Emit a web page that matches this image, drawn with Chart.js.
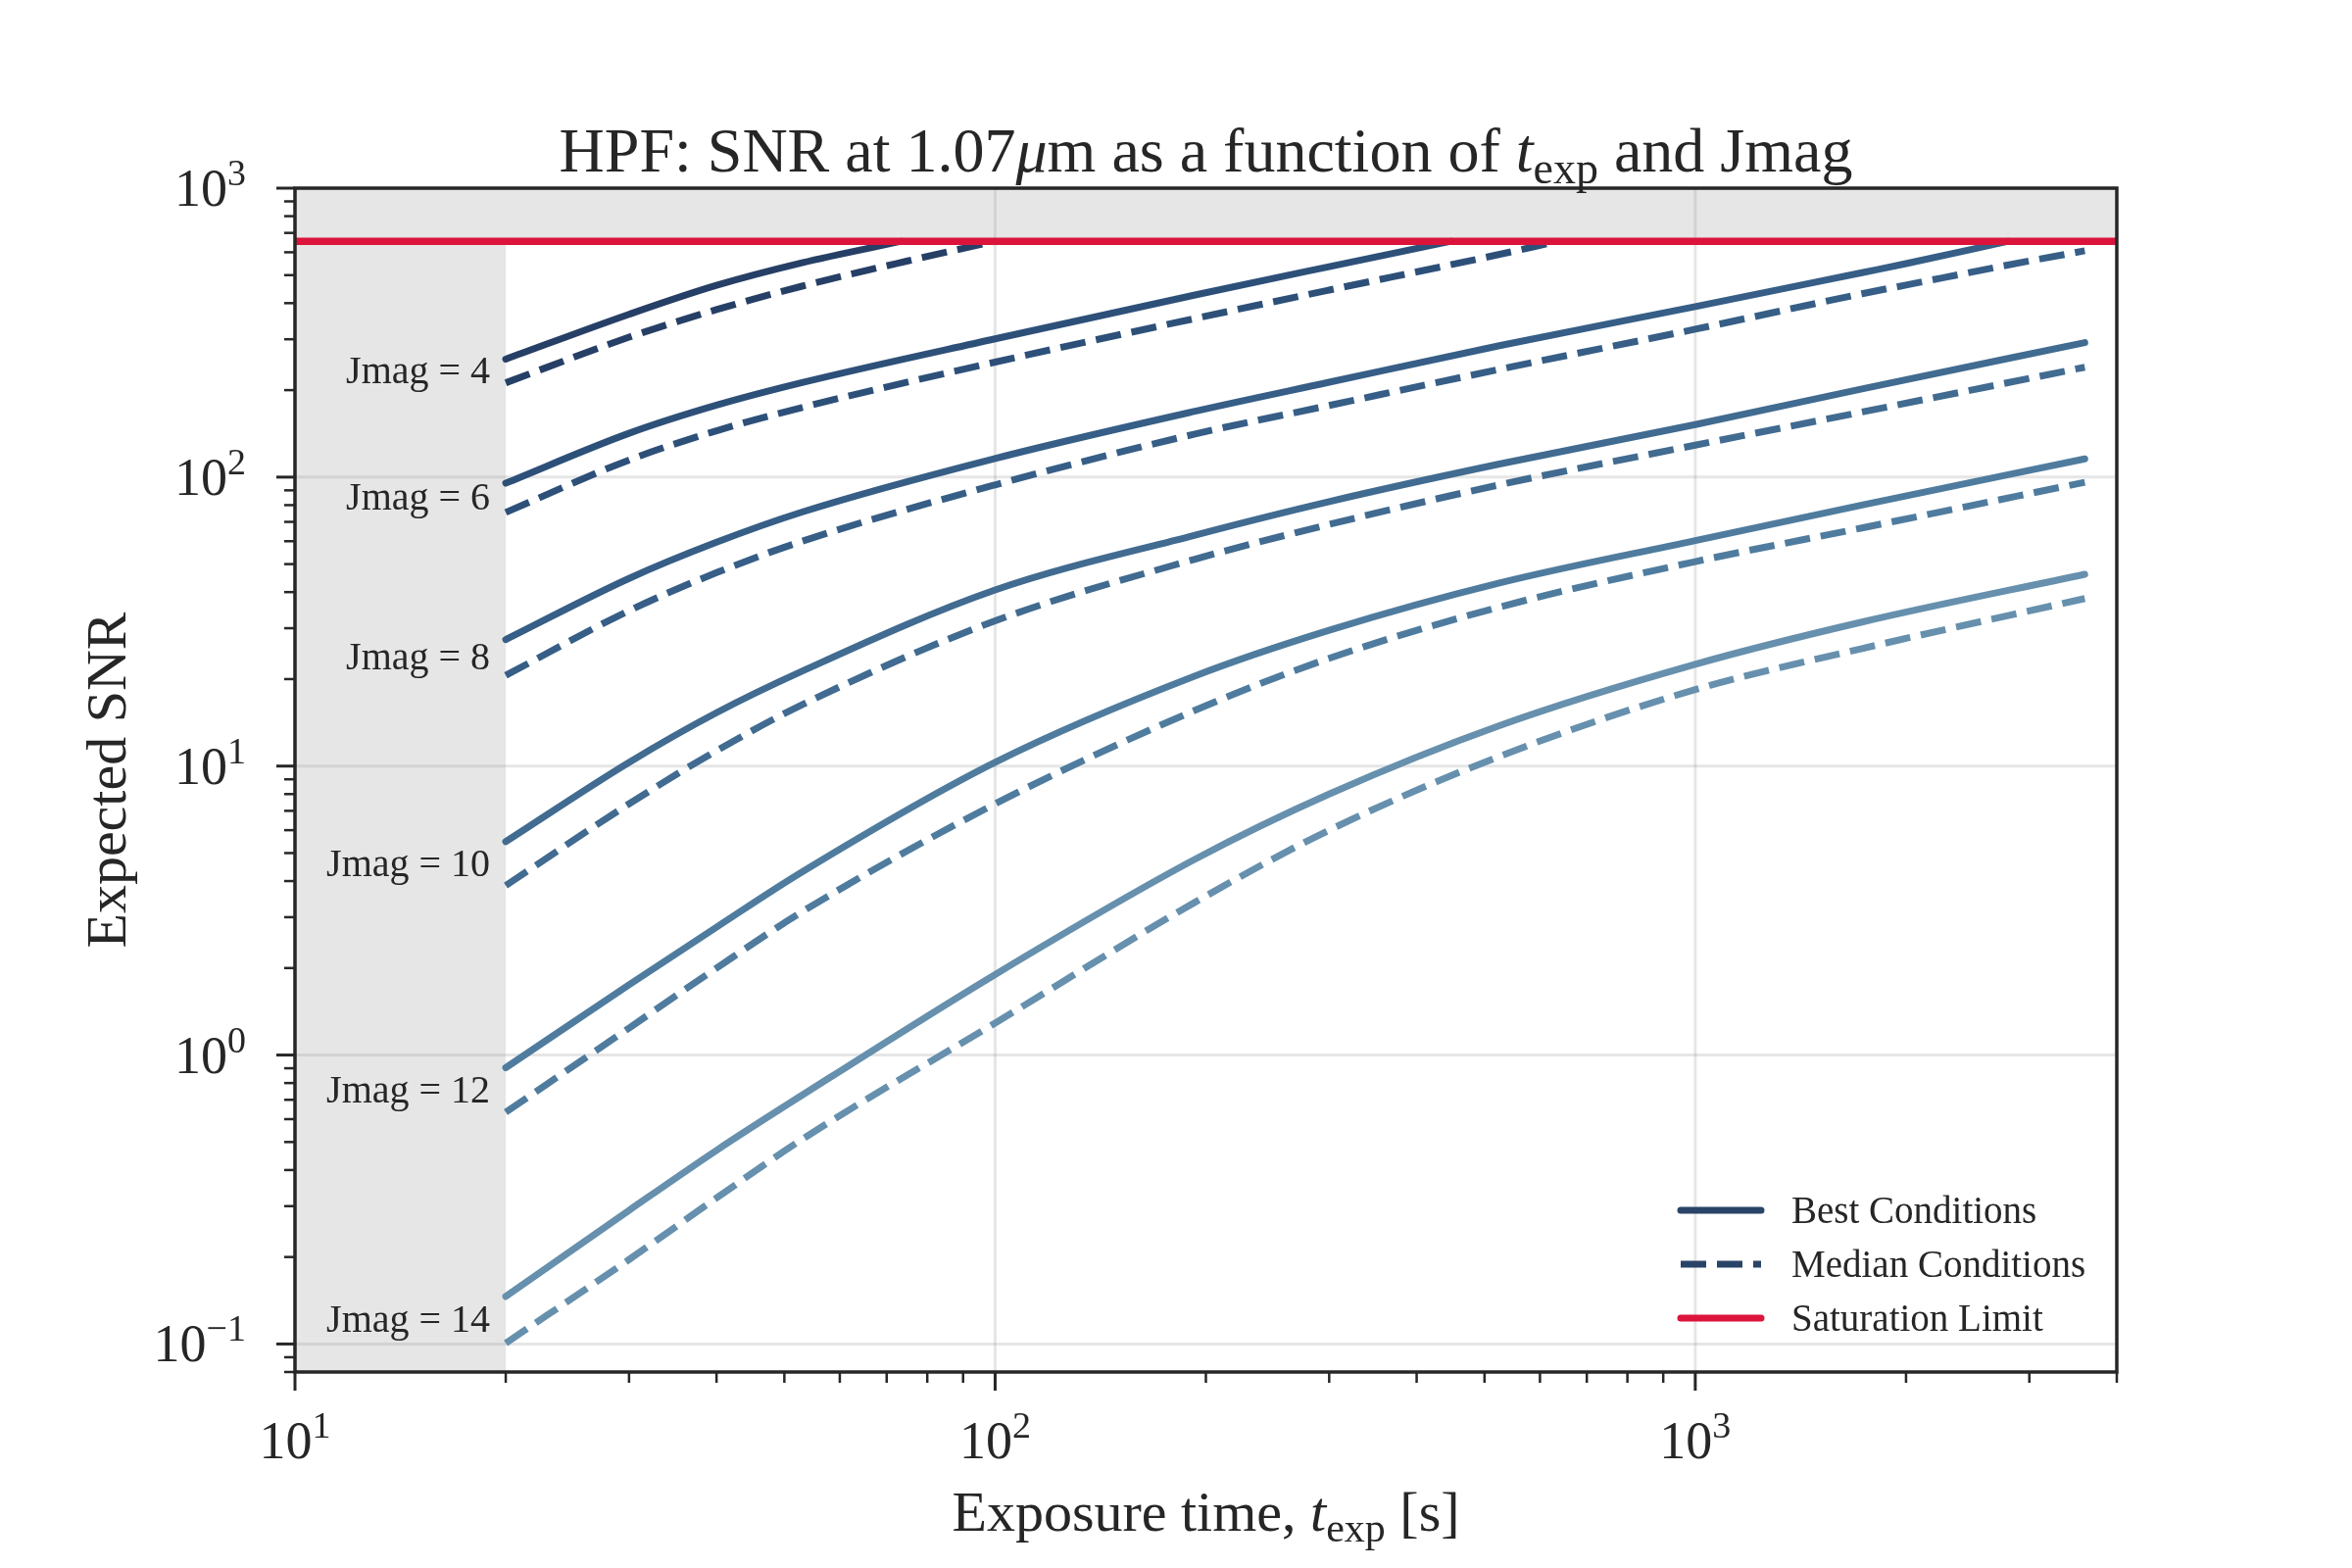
<!DOCTYPE html>
<html>
<head>
<meta charset="utf-8">
<script src="https://cdn.jsdelivr.net/npm/chart.js@4.4.1/dist/chart.umd.min.js"></script>
<style>
  html, body { margin: 0; padding: 0; background: #ffffff; }
  #wrap { width: 2400px; height: 1600px; }
</style>
</head>
<body>
<div id="wrap"><canvas id="snrChart"></canvas></div>
<script>
// values: [exposure time (s), SNR]
const jmags = [4, 6, 8, 10, 12, 14];
const satLimit = 655;
const minExpTime = 20;
const xLimits = [10, 4000];
const yLimits = [0.08, 1000];
const xMajorTicks = [10, 100, 1000];
const yMajorTicks = [0.1, 1, 10, 100, 1000];

const j4Best = [[20, 256], [30, 366], [40, 461], [53, 552], [73.5, 655]];
const j4Median = [[20, 212], [30, 305], [40, 380], [53, 458], [75, 560], [100, 655]];
const j6Best = [[20, 95.3], [30, 141.8], [40, 177.4], [53, 212.4], [100, 301], [193, 427], [300, 535], [448, 655]];
const j6Median = [[20, 75.5], [30, 114.6], [40, 144.7], [53, 174.2], [100, 250], [193, 354], [300, 444], [500, 575], [638, 655]];
const j8Best = [[20, 27.4], [30, 44.6], [40, 59.5], [53, 75.7], [100, 116], [193, 169], [300, 213], [525, 285], [1000, 389], [1730, 510], [2000, 548], [2800, 655]];
const j8Median = [[20, 20.6], [30, 34.5], [40, 46.7], [53, 60], [100, 94], [193, 141], [300, 177], [525, 236], [1000, 325], [1730, 431], [2000, 462], [3000, 560], [3600, 607]];
const j10Best = [[20, 5.48], [30, 10.3], [40, 15.3], [53, 21.3], [100, 40.7], [193, 63], [300, 82.3], [525, 111], [1000, 152], [1730, 202], [3600, 292]];
const j10Median = [[20, 3.86], [30, 7.4], [40, 11.3], [53, 16.3], [100, 31.8], [193, 52], [300, 68.6], [525, 94], [1000, 129], [1730, 168], [3600, 240]];
const j12Best = [[20, 0.904], [30, 1.75], [40, 2.77], [53, 4.3], [100, 10.3], [193, 20.5], [300, 29.5], [525, 43], [1000, 60.3], [1730, 80], [3600, 115.6]];
const j12Median = [[20, 0.634], [30, 1.24], [40, 2.0], [53, 3.13], [100, 7.4], [193, 15.6], [300, 23.6], [525, 35.5], [1000, 51], [1730, 66.7], [3600, 96]];
const j14Best = [[20, 0.146], [30, 0.29], [40, 0.468], [53, 0.726], [100, 1.9], [193, 4.76], [300, 8.0], [525, 13.8], [1000, 22.5], [1730, 31.5], [3600, 46.1]];
const j14Median = [[20, 0.1007], [30, 0.196], [40, 0.32], [53, 0.511], [100, 1.29], [193, 3.38], [300, 6.0], [525, 10.8], [1000, 18.4], [1730, 25.5], [3600, 38]];

const bestCurves = [j4Best, j6Best, j8Best, j10Best, j12Best, j14Best];
const medianCurves = [j4Median, j6Median, j8Median, j10Median, j12Median, j14Median];
const lineColors = ['#263f66', '#2d5079', '#365e86', '#416b90', '#4f7c9e', '#6690ad'];
const legendColor = '#2a4468';
const satColor = '#dc143c';
const textColor = '#262626';
const serif = '"Liberation Serif", "DejaVu Serif", serif';
const dashPattern = [26, 11];

const legendItems = [
    { label: 'Best Conditions', color: legendColor, dash: [] },
    { label: 'Median Conditions', color: legendColor, dash: dashPattern },
    { label: 'Saturation Limit', color: satColor, dash: [] }
];

function drawRich(ctx, parts, x, y, align) {
    let total = 0;
    parts.forEach(p => {
        ctx.font = p.font;
        p.w = ctx.measureText(p.text).width;
        total += p.w;
    });
    let cx = x;
    if (align === 'center') cx = x - total / 2;
    if (align === 'right') cx = x - total;
    ctx.textAlign = 'left';
    parts.forEach(p => {
        ctx.font = p.font;
        ctx.fillText(p.text, cx, y + (p.dy || 0));
        cx += p.w;
    });
}

function expLabel(v) {
    const e = Math.round(Math.log10(v));
    return e < 0 ? '\u2212' + Math.abs(e) : String(e);
}

const decorPlugin = {
    id: 'decor',
    beforeDatasetsDraw(chart) {
        const { ctx, chartArea: a, scales: { x, y } } = chart;
        ctx.save();
        // grid on major decades
        ctx.strokeStyle = 'rgba(128,128,128,0.2)';
        ctx.lineWidth = 3;
        xMajorTicks.forEach(v => {
            const px = x.getPixelForValue(v);
            ctx.beginPath(); ctx.moveTo(px, a.top); ctx.lineTo(px, a.bottom); ctx.stroke();
        });
        yMajorTicks.forEach(v => {
            const py = y.getPixelForValue(v);
            ctx.beginPath(); ctx.moveTo(a.left, py); ctx.lineTo(a.right, py); ctx.stroke();
        });
        // shaded regions: below minimum exposure time and above saturation
        const xs = x.getPixelForValue(minExpTime);
        const ys = y.getPixelForValue(satLimit);
        ctx.fillStyle = 'rgba(128,128,128,0.2)';
        ctx.fillRect(a.left, ys, xs - a.left, a.bottom - ys);
        ctx.fillRect(a.left, a.top, a.right - a.left, ys - a.top);
        ctx.restore();
    },
    afterDatasetsDraw(chart) {
        const { ctx, chartArea: a, scales: { x, y } } = chart;
        ctx.save();
        ctx.fillStyle = textColor;
        ctx.strokeStyle = textColor;
        ctx.textBaseline = 'alphabetic';

        // frame
        ctx.lineWidth = 3.5;
        ctx.strokeRect(a.left, a.top, a.right - a.left, a.bottom - a.top);

        // x ticks
        for (let d = 10; d <= 1000; d *= 10) {
            for (let k = 1; k <= 9; k++) {
                const v = k * d;
                if (v < xLimits[0] || v > xLimits[1]) continue;
                const px = x.getPixelForValue(v);
                const len = k === 1 ? 19 : 11;
                ctx.lineWidth = k === 1 ? 3 : 2.5;
                ctx.beginPath(); ctx.moveTo(px, a.bottom); ctx.lineTo(px, a.bottom + len); ctx.stroke();
            }
        }
        // y ticks
        for (let d = 0.01; d <= 1000; d *= 10) {
            for (let k = 1; k <= 9; k++) {
                const v = k * d;
                if (v < yLimits[0] * 0.999 || v > yLimits[1] * 1.001) continue;
                const py = y.getPixelForValue(v);
                const len = k === 1 ? 19 : 11;
                ctx.lineWidth = k === 1 ? 3 : 2.5;
                ctx.beginPath(); ctx.moveTo(a.left, py); ctx.lineTo(a.left - len, py); ctx.stroke();
            }
        }

        // tick labels
        xMajorTicks.forEach(v => {
            drawRich(ctx, [
                { text: '10', font: `54px ${serif}` },
                { text: expLabel(v), font: `38px ${serif}`, dy: -21 }
            ], x.getPixelForValue(v), a.bottom + 88, 'center');
        });
        yMajorTicks.forEach(v => {
            drawRich(ctx, [
                { text: '10', font: `54px ${serif}` },
                { text: expLabel(v), font: `38px ${serif}`, dy: -21 }
            ], a.left - 50, y.getPixelForValue(v) + 18, 'right');
        });

        // Jmag labels at the start of each curve pair
        ctx.font = `40px ${serif}`;
        ctx.textAlign = 'right';
        ctx.textBaseline = 'middle';
        const lx = x.getPixelForValue(minExpTime) - 16;
        jmags.forEach((m, i) => {
            const py = (y.getPixelForValue(bestCurves[i][0][1]) + y.getPixelForValue(medianCurves[i][0][1])) / 2;
            ctx.fillText(`Jmag = ${m}`, lx, py + 2);
        });

        // legend
        ctx.textAlign = 'left';
        ctx.textBaseline = 'middle';
        legendItems.forEach((item, i) => {
            const ry = a.bottom - 165 + i * 55;
            ctx.save();
            ctx.strokeStyle = item.color;
            ctx.lineWidth = 7;
            ctx.setLineDash(item.dash);
            ctx.lineCap = item.dash.length ? 'butt' : 'round';
            ctx.beginPath();
            ctx.moveTo(a.right - 445, ry);
            ctx.lineTo(a.right - 363, ry);
            ctx.stroke();
            ctx.restore();
            ctx.font = `39px ${serif}`;
            ctx.fillText(item.label, a.right - 332, ry + 3);
        });

        // title
        ctx.textBaseline = 'alphabetic';
        const tf = `64px ${serif}`;
        const tfi = `italic 64px ${serif}`;
        drawRich(ctx, [
            { text: 'HPF: SNR at 1.07', font: tf },
            { text: '\u03bc', font: tfi },
            { text: 'm as a function of ', font: tf },
            { text: 't', font: tfi },
            { text: 'exp', font: `46px ${serif}`, dy: 12 },
            { text: ' and Jmag', font: tf }
        ], (a.left + a.right) / 2, a.top - 17, 'center');

        // x axis label
        const lf = `58px ${serif}`;
        drawRich(ctx, [
            { text: 'Exposure time, ', font: lf },
            { text: 't', font: `italic 58px ${serif}` },
            { text: 'exp', font: `42px ${serif}`, dy: 11 },
            { text: ' [s]', font: lf }
        ], (a.left + a.right) / 2, a.bottom + 162, 'center');

        // y axis label
        ctx.save();
        ctx.translate(128, (a.top + a.bottom) / 2);
        ctx.rotate(-Math.PI / 2);
        ctx.font = lf;
        ctx.textAlign = 'center';
        ctx.fillText('Expected SNR', 0, 0);
        ctx.restore();

        ctx.restore();
    }
};

const datasets = [{
    label: 'Saturation Limit',
    data: [[xLimits[0], satLimit], [xLimits[1], satLimit]],
    borderColor: satColor,
    borderWidth: 7.5,
    pointRadius: 0
}];
jmags.forEach((m, i) => {
    datasets.push({
        label: `Jmag = ${m} best`,
        data: bestCurves[i],
        borderColor: lineColors[i],
        borderWidth: 7,
        borderCapStyle: 'round',
        borderJoinStyle: 'round',
        cubicInterpolationMode: 'monotone',
        pointRadius: 0
    });
    datasets.push({
        label: `Jmag = ${m} median`,
        data: medianCurves[i],
        borderColor: lineColors[i],
        borderWidth: 7,
        borderDash: dashPattern,
        borderCapStyle: 'butt',
        cubicInterpolationMode: 'monotone',
        pointRadius: 0
    });
});

new Chart(document.getElementById('snrChart').getContext('2d'), {
    type: 'line',
    data: { datasets: datasets },
    options: {
        responsive: true,
        maintainAspectRatio: false,
        devicePixelRatio: 1,
        animation: false,
        layout: {
            autoPadding: false,
            padding: { left: 301, right: 240, top: 192, bottom: 200 }
        },
        scales: {
            x: { type: 'logarithmic', min: xLimits[0], max: xLimits[1], bounds: 'data', display: false },
            y: { type: 'logarithmic', min: yLimits[0], max: yLimits[1], bounds: 'data', display: false }
        },
        plugins: {
            legend: { display: false },
            tooltip: { enabled: false }
        }
    },
    plugins: [decorPlugin]
});
</script>
</body>
</html>
